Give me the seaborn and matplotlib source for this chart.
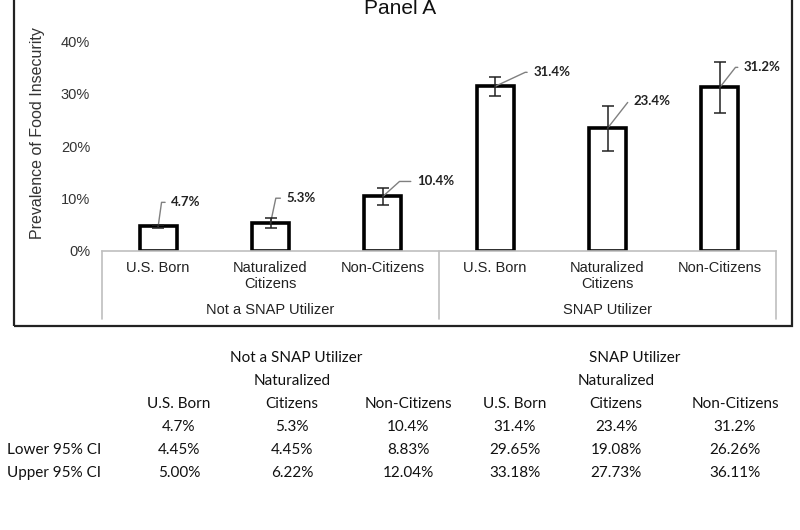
import matplotlib
matplotlib.use("Agg")
import matplotlib.pyplot as plt
import matplotlib.patches as mpatches
import matplotlib.transforms as mtransforms
import seaborn as sns
import pandas as pd
import numpy as np

# ---- data ----
group_names = ["Not a SNAP Utilizer", "SNAP Utilizer"]
categories = ["U.S. Born", "Naturalized\nCitizens", "Non-Citizens",
              "U.S. Born", "Naturalized\nCitizens", "Non-Citizens"]
prevalence = [4.7, 5.3, 10.4, 31.4, 23.4, 31.2]
lower_ci = [4.45, 4.45, 8.83, 29.65, 19.08, 26.26]
upper_ci = [5.00, 6.22, 12.04, 33.18, 27.73, 36.11]
y_ticks = [0, 10, 20, 30, 40]

# callout styling (pixel offsets and leader-line angles)
label_offsets = [(13, 24), (16, 25), (34, 15), (38, 14), (26, 27), (24, 20)]
leader_angles = [82, 78, 42, 25, 52, 52]

sns.set_theme(style="white")
plt.rcParams["font.family"] = ["Liberation Sans", "DejaVu Sans"]
axis_font = ["Liberation Sans", "DejaVu Sans"]
table_font = ["Lato", "DejaVu Sans"]

W, H = 800, 530
fig = plt.figure(figsize=(W / 100, H / 100), dpi=100)
ax_left, ax_right = 102 / W, 776 / W
ax_bottom, ax_top = (H - 251) / H, (H - 15) / H
ax = fig.add_axes([ax_left, ax_bottom, ax_right - ax_left, ax_top - ax_bottom])

df = pd.DataFrame({
    "pos": [str(i) for i in range(len(categories))],
    "value": np.array(prevalence) / 100.0,
})
sns.barplot(data=df, x="pos", y="value", ax=ax, color="white",
            edgecolor="black", linewidth=2.6, width=0.33, errorbar=None)

vals = np.array(prevalence) / 100.0
lo = np.array(lower_ci) / 100.0
hi = np.array(upper_ci) / 100.0
xs = np.arange(len(categories))
ax.errorbar(xs, vals, yerr=[vals - lo, hi - vals], fmt="none",
            ecolor="#222222", elinewidth=1.1, capsize=4, capthick=1.1, zorder=5)

ax.set_xlim(-0.5, len(categories) - 0.5)
ax.set_ylim(0, 0.45)
ax.set_yticks(np.array(y_ticks) / 100.0)
ax.set_yticklabels([f"{t}%" for t in y_ticks], fontsize=10.5, color="#333333")
ax.tick_params(axis="y", length=0, pad=8.5)
ax.set_xticks(xs)
ax.set_xticklabels(categories, fontsize=10.5, color="#222222", family=axis_font,
                   linespacing=1.25)
ax.tick_params(axis="x", length=0, pad=7)
for s in ["top", "right", "left"]:
    ax.spines[s].set_visible(False)
ax.spines["bottom"].set_color("#bfbfbf")
ax.spines["bottom"].set_linewidth(1.2)
ax.set_xlabel("")
ax.set_ylabel("Prevalence of Food Insecurity", fontsize=11.5, color="#333333")
ax.yaxis.set_label_coords(-0.085, 0.5)

# value callouts
for x, v, (dx, dy), ang in zip(xs, vals, label_offsets, leader_angles):
    ax.annotate(f"{v*100:.1f}%", xy=(x, v), xytext=(dx, dy),
                textcoords="offset pixels", ha="left", va="center",
                fontsize=9.5, fontweight="bold", family=table_font, color="#222222",
                arrowprops=dict(arrowstyle="-", color="#808080", lw=1.0,
                                shrinkA=2, shrinkB=0, relpos=(0, 0.5),
                                connectionstyle=f"angle,angleA=0,angleB={ang},rad=0"))

# group separators and group labels
trans = mtransforms.blended_transform_factory(ax.transData, ax.transAxes)
n_per = len(categories) // len(group_names)
sep_positions = [-0.5 + i * n_per for i in range(len(group_names) + 1)]
for sp in sep_positions:
    ax.plot([sp, sp], [0, -68 / 236], transform=trans, color="#bfbfbf",
            lw=1.2, clip_on=False)
for gi, g in enumerate(group_names):
    center = -0.5 + gi * n_per + n_per / 2
    ax.text(center, -59 / 236, g, transform=trans, ha="center", va="center",
            fontsize=10.5, family=axis_font, color="#222222")

# title
fig.text(0.5, 1 - 8 / H, "Panel A", ha="center", va="center", fontsize=15,
         color="#111111")

# frame around chart
frame = mpatches.Rectangle((14 / W, (H - 326) / H), (792 - 14) / W, 0.7,
                           transform=fig.transFigure, fill=False,
                           edgecolor="#222222", lw=1.6)
fig.add_artist(frame)

# ---- table below ----
col_x = [179, 292, 408, 515, 616, 735]
def fy(py):
    return 1 - py / H

tfs = 11
group_center_px = [296, 635]
for g, cx in zip(group_names, group_center_px):
    fig.text(cx / W, fy(358), g, ha="center", va="center", fontsize=tfs,
             family=table_font, color="#111111")
for i, c in enumerate(categories):
    parts = c.split("\n")
    if len(parts) == 2:
        fig.text(col_x[i] / W, fy(381), parts[0], ha="center", va="center",
                 fontsize=tfs, family=table_font, color="#111111")
        fig.text(col_x[i] / W, fy(404), parts[1], ha="center", va="center",
                 fontsize=tfs, family=table_font, color="#111111")
    else:
        fig.text(col_x[i] / W, fy(404), parts[0], ha="center", va="center",
                 fontsize=tfs, family=table_font, color="#111111")
    fig.text(col_x[i] / W, fy(427), f"{prevalence[i]:.1f}%", ha="center",
             va="center", fontsize=tfs, family=table_font, color="#111111")
    fig.text(col_x[i] / W, fy(450), f"{lower_ci[i]:.2f}%", ha="center",
             va="center", fontsize=tfs, family=table_font, color="#111111")
    fig.text(col_x[i] / W, fy(473), f"{upper_ci[i]:.2f}%", ha="center",
             va="center", fontsize=tfs, family=table_font, color="#111111")
fig.text(7 / W, fy(450), "Lower 95% CI", ha="left", va="center", fontsize=tfs,
         family=table_font, color="#111111")
fig.text(7 / W, fy(473), "Upper 95% CI", ha="left", va="center", fontsize=tfs,
         family=table_font, color="#111111")

fig.savefig("out.png", dpi=100, facecolor="white")
